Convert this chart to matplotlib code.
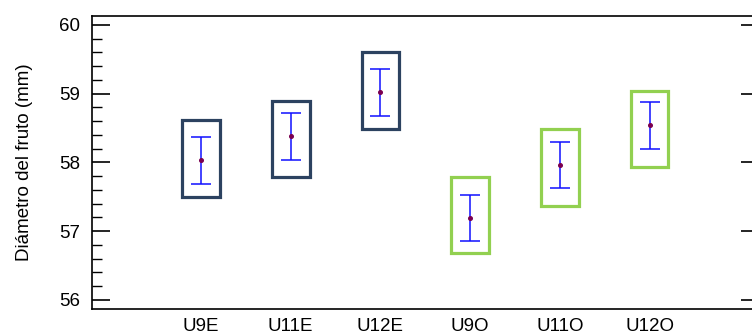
import numpy as np
import matplotlib
matplotlib.use("Agg")
import matplotlib.pyplot as plt
from matplotlib.patches import Rectangle
from matplotlib.ticker import MultipleLocator

plt.rcParams['font.family'] = ['Liberation Sans', 'DejaVu Sans']

# fruit diameter by treatment: mean, error half-width, interval box limits
groups = ['U9E', 'U11E', 'U12E', 'U9O', 'U11O', 'U12O']
means = [58.03, 58.38, 59.02, 57.19, 57.96, 58.54]
err = [0.34, 0.34, 0.34, 0.34, 0.34, 0.34]
box_lo = [57.50, 57.79, 58.48, 56.68, 57.37, 57.93]
box_hi = [58.62, 58.90, 59.60, 57.79, 58.49, 59.04]
box_colors = ['#2c4260', '#2c4260', '#2c4260', '#92d050', '#92d050', '#92d050']

x = np.arange(1, len(groups) + 1)

fig = plt.figure(figsize=(7.52, 3.33), dpi=100)
ax = fig.add_axes([91.5 / 752, 24.3 / 333, 667.5 / 752, 293 / 333])

box_w = 0.42
for xi, lo, hi, c in zip(x, box_lo, box_hi, box_colors):
    ax.add_patch(Rectangle((xi - box_w / 2, lo), box_w, hi - lo,
                           fill=False, edgecolor=c, linewidth=2.3, zorder=2))

ax.errorbar(x, means, yerr=err, fmt='none', ecolor='#1010ff',
            elinewidth=1.1, capsize=7.3, capthick=1.1, zorder=3)
ax.plot(x, means, 'o', color='#7a0050', markersize=2.6, zorder=4)

ax.set_xlim(-0.22, 7.22)
ax.set_ylim(55.87, 60.135)
ax.set_xticks(x)
ax.set_xticklabels(groups)
ax.set_yticks([56, 57, 58, 59, 60])
ax.yaxis.set_minor_locator(MultipleLocator(0.2))

ax.tick_params(axis='x', length=0, pad=7, labelsize=13.5)
ax.tick_params(axis='y', which='major', direction='in', length=13, width=1.2,
               pad=8, labelsize=13.5, right=True)
ax.tick_params(axis='y', which='minor', direction='in', length=7, width=1.0,
               right=False)

for s in ax.spines.values():
    s.set_linewidth(1.2)

ax.set_ylabel('Diámetro del fruto (mm)', fontsize=13.5)
ax.yaxis.set_label_coords(-0.088, 0.5)

fig.savefig('out.png', dpi=100)
